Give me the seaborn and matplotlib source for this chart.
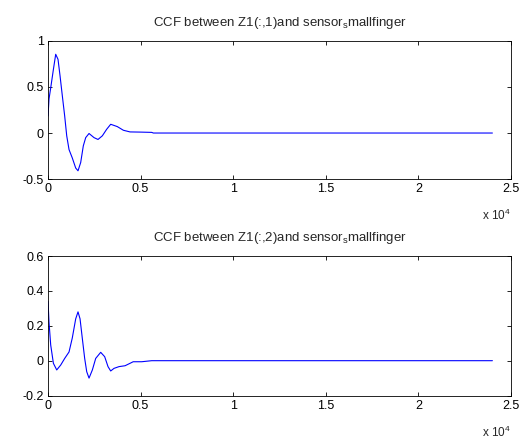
import numpy as np
import pandas as pd
import matplotlib
matplotlib.use("Agg")
import matplotlib.pyplot as plt
import seaborn as sns

# ******************* data
lag_1 = [0, 54, 145, 290, 415, 540, 650, 775, 900, 1010, 1135, 1310, 1495, 1620,
         1765, 1905, 2035, 2215, 2485, 2700, 2935, 3165, 3385, 3740, 4070, 4430,
         5000, 5600, 5690, 24000]
ccf_1 = [0.185, 0.37, 0.49, 0.69, 0.855, 0.80, 0.62, 0.40, 0.185, -0.03, -0.18,
         -0.27, -0.38, -0.41, -0.32, -0.14, -0.05, -0.005, -0.05, -0.07, -0.03, 0.04,
         0.095, 0.07, 0.03, 0.012, 0.01, 0.007, 0.0, 0.0]

lag_2 = [0, 54, 145, 290, 470, 685, 900, 1135, 1310, 1495, 1620, 1730, 1850, 1980,
         2090, 2215, 2395, 2575, 2845, 3060, 3240, 3385, 3565, 3835, 4160, 4430,
         4600, 5060, 5600, 24000]
ccf_2 = [0.34, 0.22, 0.09, -0.015, -0.053, -0.025, 0.013, 0.05, 0.13, 0.24, 0.28,
         0.24, 0.13, 0.013, -0.063, -0.10, -0.053, 0.013, 0.048, 0.023, -0.034, -0.059,
         -0.044, -0.034, -0.029, -0.015, -0.006, -0.006, 0.0, 0.0]

titles = ["CCF between Z1(:,1)and sensor$_{\\mathregular{s}}$mallfinger",
          "CCF between Z1(:,2)and sensor$_{\\mathregular{s}}$mallfinger"]
x_ticks = [0, 5000, 10000, 15000, 20000, 25000]
x_tick_labels = ["0", "0.5", "1", "1.5", "2", "2.5"]
y_ticks_1 = [-0.5, 0, 0.5, 1]
y_ticks_2 = [-0.2, 0, 0.2, 0.4, 0.6]

sns.set_style("ticks")
plt.rcParams["font.family"] = ["Liberation Sans", "DejaVu Sans"]
plt.rcParams["mathtext.fontset"] = "custom"
plt.rcParams["mathtext.rm"] = "Liberation Sans"

fig = plt.figure(figsize=(5.3, 4.4), dpi=100)
ax1 = fig.add_axes([0.0906, 0.593, 0.8734, 0.314])
ax2 = fig.add_axes([0.0906, 0.101, 0.8734, 0.317])

panels = [
    (ax1, lag_1, ccf_1, titles[0], y_ticks_1),
    (ax2, lag_2, ccf_2, titles[1], y_ticks_2),
]

for ax, lag, ccf, title, yt in panels:
    df = pd.DataFrame({"lag": lag, "ccf": ccf})
    sns.lineplot(data=df, x="lag", y="ccf", ax=ax, color="#0000ff", linewidth=0.8)
    ax.set_xlim(0, 25000)
    ax.set_ylim(yt[0], yt[-1])
    ax.set_xticks(x_ticks)
    ax.set_xticklabels(x_tick_labels)
    ax.set_yticks(yt)
    ax.set_yticklabels([f"{v:g}" for v in yt])
    ax.set_xlabel("")
    ax.set_ylabel("")
    ax.set_title(title, fontsize=9.5, pad=11)
    ax.tick_params(direction="in", length=3, width=0.6, labelsize=9,
                   top=True, right=True, pad=3, colors="black")
    for s in ax.spines.values():
        s.set_visible(True)
        s.set_linewidth(0.6)
        s.set_color("black")
    ax.text(1.0, -0.21, "x 10$^{\\mathregular{4}}$", transform=ax.transAxes,
            ha="right", va="top", fontsize=8.5)

fig.savefig("out.png", dpi=100)
